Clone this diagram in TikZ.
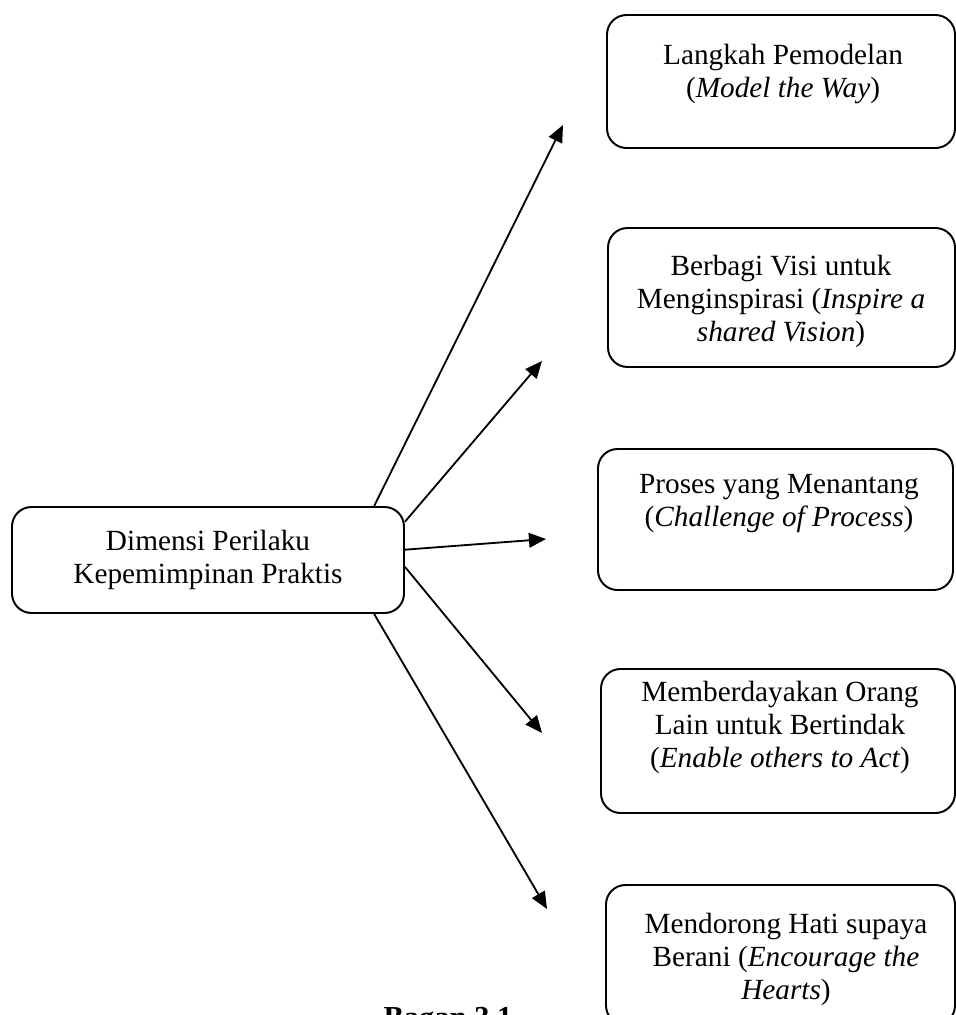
\documentclass[tikz,border=0pt]{standalone}
\usepackage{fontspec}
\setmainfont{Liberation Serif}
\usetikzlibrary{arrows.meta}
\newcommand{\px}{0.41pt}

\begin{document}
\begin{tikzpicture}[x=0.41pt,y=-0.41pt,
  box/.style={draw,line width=0.8pt,rounded corners=8pt,inner sep=0pt},
  txt/.style={align=center,inner sep=0pt,font=\fontsize{12}{13.5}\selectfont},
  arr/.style={-{Triangle[length=7pt,width=6pt]},line width=0.75pt}]
\useasboundingbox (0,0) rectangle (956,1015);
% pusat
\node[box,txt,minimum width=392*\px,minimum height=106*\px] (dim) at (208,560)
  {Dimensi Perilaku\\Kepemimpinan Praktis};
% lima dimensi
\node[box,minimum width=348*\px,minimum height=133*\px] (b1) at (781,81.5) {};
\node[txt,anchor=north] (t1) at (783,44) {Langkah Pemodelan\\(\textit{Model the Way})};
\node[box,minimum width=347*\px,minimum height=139*\px] (b2) at (781.5,297.5) {};
\node[txt,anchor=north] (t2) at (781,255) {Berbagi Visi untuk\\Menginspirasi (\textit{Inspire a}\\\textit{shared Vision})};
\node[box,minimum width=355*\px,minimum height=141*\px] (b3) at (775.5,519.5) {};
\node[txt,anchor=north] (t3) at (779,474) {Proses yang Menantang\\(\textit{Challenge of Process})};
\node[box,minimum width=354*\px,minimum height=144*\px] (b4) at (778,741) {};
\node[txt,anchor=north] (t4) at (780,681) {Memberdayakan Orang\\Lain untuk Bertindak\\(\textit{Enable others to Act})};
\node[box,minimum width=349*\px,minimum height=140*\px] (b5) at (780.5,955) {};
\node[txt,anchor=north] (t5) at (786,913) {Mendorong Hati supaya\\Berani (\textit{Encourage the}\\\textit{Hearts})};
% ujung panah
\coordinate (p1) at (563,125);
\coordinate (p2) at (542,361);
\coordinate (p3) at (546,539);
\coordinate (p4) at (542,733);
\coordinate (p5) at (547,909);
\draw[arr] (dim.18.2) -- (p1);
\draw[arr] (dim.11) -- (p2);
\draw[arr] (dim.3.5) -- (p3);
\draw[arr] (dim.-2.9) -- (p4);
\draw[arr] (dim.-18.2) -- (p5);
\node[anchor=north,inner sep=0pt,font=\bfseries\fontsize{12.5}{15}\selectfont] (cap) at (448,1007) {Bagan 3.1};
\end{tikzpicture}
\end{document}
